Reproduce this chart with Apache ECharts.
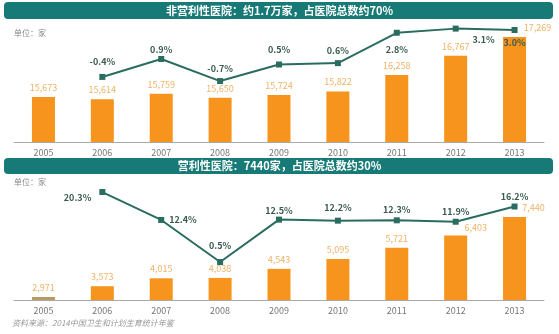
<!DOCTYPE html>
<html><head><meta charset="utf-8">
<script src="https://cdn.jsdelivr.net/npm/echarts@6/dist/echarts.min.js"></script>
<style>html,body{margin:0;padding:0;background:#fff}#c{width:559px;height:334px}</style>
</head><body><div id="c"></div>
<script>
const years = ['2005','2006','2007','2008','2009','2010','2011','2012','2013'];
const nonProfitCount = [15673,15614,15759,15650,15724,15822,16258,16767,17269];
const nonProfitGrowth = [null,-0.4,0.9,-0.7,0.5,0.6,2.8,3.1,3.0];
const profitCount = [2971,3573,4015,4038,4543,5095,5721,6403,7440];
const profitGrowth = [null,20.3,12.4,0.5,12.5,12.2,12.3,11.9,16.2];
const title1 = '非营利性医院：约1.7万家，占医院总数约70%';
const title2 = '营利性医院：7440家，占医院总数约30%';
const unitText = '单位：家';
const sourceText = '资料来源：2014中国卫生和计划生育统计年鉴';

const FONT = '"Noto Sans CJK SC", "Noto Sans", sans-serif';
const BAR = '#f7941d', BARLBL = '#f0b266', LINE = '#2a6d60', LINELBL = '#3a5a52', TEAL = '#177a76';

// label placement tweaks (style only)
const npBarLbl = [{},{},{},{},{},{},{},{},{offset:[23,0]}];
const npLineLbl = [null,
  {position:'top',distance:8},{position:'top',distance:2},{position:'top',distance:5},
  {position:'top',distance:7},{position:'top',distance:5},{position:'bottom',distance:9},
  {position:'bottom',distance:3,offset:[28,0]},{position:'bottom',distance:5}];
const pBarLbl = [{},{},{},{},{},{},{},{offset:[20,2]},{offset:[19,0]}];
const pLineLbl = [null,
  {position:'left',distance:8,offset:[0,6]},{position:'right',distance:5},{position:'top',distance:9},
  {position:'top',distance:2},{position:'top',distance:6},{position:'top',distance:3},
  {position:'top',distance:3},{position:'top',distance:2}];

function barData(vals, tweaks, firstColor){
  return vals.map((v,i)=>{
    const d = {value:v};
    if (tweaks[i] && tweaks[i].offset) d.label = {offset:tweaks[i].offset};
    if (i===0 && firstColor) d.itemStyle = {color:firstColor};
    return d;
  });
}
function lineData(vals, tweaks){
  return vals.map((v,i)=> v===null ? null : {value:v, label:tweaks[i]});
}
const fmtNum = p => p.value.toLocaleString('en-US');
const xAxisBase = gi => ({type:'category',gridIndex:gi,data:years,
  axisLine:{onZero:false,lineStyle:{color:'#aaa'}},axisTick:{length:3,lineStyle:{color:'#aaa'}},
  axisLabel:{color:'#777',fontSize:9,margin:6}});

const chart = echarts.init(document.getElementById('c'));
chart.setOption({
  backgroundColor:'#fff',
  animation:false,
  textStyle:{fontFamily:FONT},
  graphic:[
    {type:'rect',shape:{x:4,y:2,width:549,height:17,r:4},style:{fill:TEAL}},
    {type:'text',x:279.5,y:10.5,style:{text:title1,fill:'#fff',font:'bold 11px '+FONT,textAlign:'center',textVerticalAlign:'middle'}},
    {type:'rect',shape:{x:4,y:158,width:549,height:16,r:4},style:{fill:TEAL}},
    {type:'text',x:279.5,y:166,style:{text:title2,fill:'#fff',font:'bold 11px '+FONT,textAlign:'center',textVerticalAlign:'middle'}},
    {type:'text',x:14,y:29,style:{text:unitText,fill:'#888',font:'8px '+FONT}},
    {type:'text',x:14,y:178,style:{text:unitText,fill:'#888',font:'8px '+FONT}},
    {type:'text',x:12,y:319,style:{text:sourceText,fill:'#999',font:'italic 8px '+FONT}}
  ],
  grid:[
    {left:14,right:15,top:20,height:122},
    {left:14,right:15,top:185,height:115}
  ],
  xAxis:[xAxisBase(0), xAxisBase(1)],
  yAxis:[
    {type:'value',gridIndex:0,min:14476,max:17721,show:false,splitLine:{show:false}},
    {type:'value',gridIndex:0,min:-5.116,max:3.725,show:false,splitLine:{show:false}},
    {type:'value',gridIndex:1,min:2803,max:9227,show:false,splitLine:{show:false}},
    {type:'value',gridIndex:1,min:-10.24,max:22.29,show:false,splitLine:{show:false}}
  ],
  series:[
    {type:'bar',xAxisIndex:0,yAxisIndex:0,barWidth:23,data:barData(nonProfitCount,npBarLbl),
      itemStyle:{color:BAR},label:{show:true,position:'top',distance:5,color:BARLBL,fontSize:9,formatter:fmtNum}},
    {type:'line',xAxisIndex:0,yAxisIndex:1,data:lineData(nonProfitGrowth,npLineLbl),connectNulls:true,
      symbol:'rect',symbolSize:6,lineStyle:{color:LINE,width:2},itemStyle:{color:LINE},z:5,
      label:{show:true,color:LINELBL,fontSize:9,fontWeight:'bold',formatter:p=>p.value.toFixed(1)+'%'}},
    {type:'bar',xAxisIndex:1,yAxisIndex:2,barWidth:23,data:barData(profitCount,pBarLbl,'#b59b5e'),
      itemStyle:{color:BAR},label:{show:true,position:'top',distance:5,color:BARLBL,fontSize:9,formatter:fmtNum}},
    {type:'line',xAxisIndex:1,yAxisIndex:3,data:lineData(profitGrowth,pLineLbl),connectNulls:true,
      symbol:'rect',symbolSize:6,lineStyle:{color:LINE,width:2},itemStyle:{color:LINE},z:5,
      label:{show:true,color:LINELBL,fontSize:9,fontWeight:'bold',formatter:p=>p.value.toFixed(1)+'%'}}
  ]
});
</script></body></html>
